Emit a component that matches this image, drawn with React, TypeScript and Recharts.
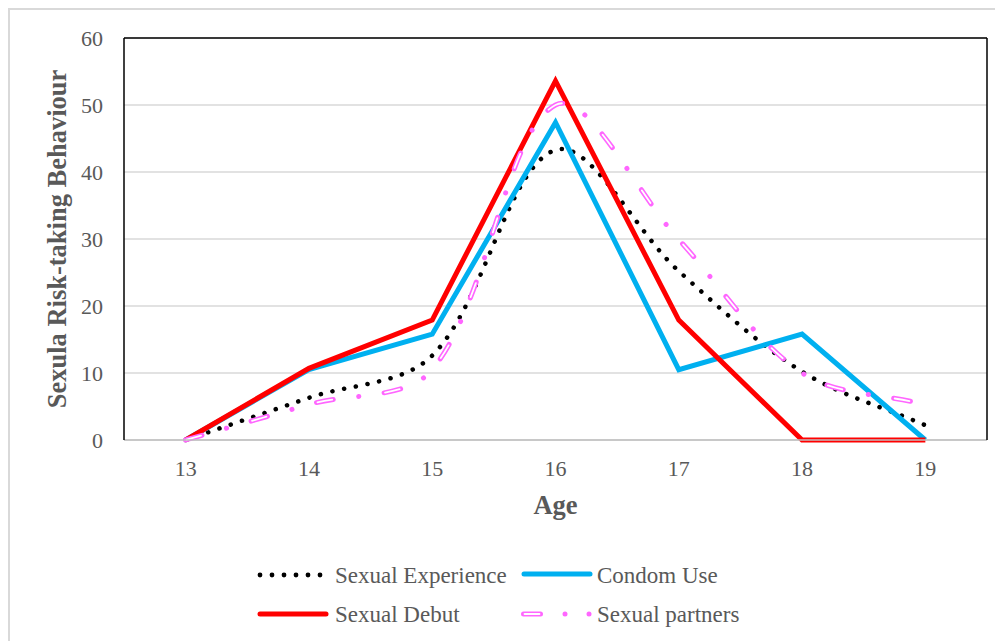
import React from 'react';
import { LineChart, Line, XAxis, YAxis, CartesianGrid } from 'recharts';

const ages = [13, 14, 15, 16, 17, 18, 19];
const sexualExperience = [0, 6.3, 12.6, 43.3, 25.2, 10.2, 2.2];
const condomUse = [0, 10.5, 15.8, 47.4, 10.5, 15.8, 0];
const sexualDebut = [0, 10.7, 17.9, 53.6, 17.9, 0, 0];
const sexualPartners = [0, 5.3, 10.5, 50, 29.9, 10, 5.3];
const yTicks = [0, 10, 20, 30, 40, 50, 60];

const data = ages.map((age, i) => ({
  age,
  experience: sexualExperience[i],
  condom: condomUse[i],
  debut: sexualDebut[i],
  partners: sexualPartners[i],
}));

// Excel-like smoothing: Bezier through points, tangent scaled by segment lengths
const smoothCurve = (context: any) => {
  let pts: number[][] = [];
  return {
    areaStart() {},
    areaEnd() {},
    lineStart() {
      pts = [];
    },
    lineEnd() {
      const n = pts.length;
      if (!n) return;
      context.moveTo(pts[0][0], pts[0][1]);
      if (n === 1) return;
      const cl: number[][] = [];
      const cr: number[][] = [];
      for (let i = 0; i < n; i++) {
        const p = pts[i];
        const prev = pts[i - 1] || p;
        const next = pts[i + 1] || p;
        const dl = Math.hypot(p[0] - prev[0], p[1] - prev[1]);
        const dr = Math.hypot(next[0] - p[0], next[1] - p[1]);
        const s = dl + dr || 1;
        const tx = next[0] - prev[0];
        const ty = next[1] - prev[1];
        cl[i] = [p[0] - (tx * dl) / s / 3, p[1] - (ty * dl) / s / 3];
        cr[i] = [p[0] + (tx * dr) / s / 3, p[1] + (ty * dr) / s / 3];
      }
      for (let i = 0; i < n - 1; i++) {
        context.bezierCurveTo(cr[i][0], cr[i][1], cl[i + 1][0], cl[i + 1][1], pts[i + 1][0], pts[i + 1][1]);
      }
    },
    point(x: number, y: number) {
      pts.push([+x, +y]);
    },
  };
};

const FONT = '"Liberation Serif", "Times New Roman", serif';
const GREY = '#595959';
const PINK = '#FF66FF';
const BLUE = '#00B0F0';
const RED = '#FF0000';

const TICK_SIZE = 22;
const LEG_SIZE = 23;
const TITLE_SIZE = 26.5;

export default function App() {
  return (
    <div style={{ position: 'relative', width: 995, height: 633, overflow: 'hidden', background: '#fff' }}>
      <div
        style={{
          position: 'absolute',
          left: 0,
          top: 0,
          width: 1100,
          height: 800,
          borderTop: '2px solid #d9d9d9',
          borderLeft: '2px solid #d9d9d9',
          boxSizing: 'border-box',
        }}
      />
      <div style={{ position: 'absolute', left: 0, top: 0 }}>
        <LineChart width={995} height={530} data={data} margin={{ top: 29, right: 15, left: 40, bottom: 38 }}>
          <CartesianGrid vertical={false} stroke="#d9d9d9" strokeWidth={1.5} />
          <XAxis
            dataKey="age"
            scale="band"
            stroke="#bfbfbf"
            strokeWidth={1.5}
            tickLine={false}
            tickMargin={14}
            height={60}
            tick={{ fill: GREY, fontSize: TICK_SIZE, fontFamily: FONT }}
            label={() => (
              <text
                x={547.5}
                y={506}
                textAnchor="middle"
                fill={GREY}
                fontSize={TITLE_SIZE}
                fontWeight="bold"
                fontFamily={FONT}
              >
                Age
              </text>
            )}
          />
          <XAxis
            xAxisId="top"
            orientation="top"
            dataKey="age"
            scale="band"
            height={1}
            tick={false}
            tickLine={false}
            stroke="#000"
            strokeWidth={1.5}
          />
          <YAxis
            domain={[0, 60]}
            ticks={yTicks}
            width={76}
            stroke="#000"
            strokeWidth={1.5}
            tickLine={false}
            tickMargin={15}
            tick={{ fill: GREY, fontSize: TICK_SIZE, fontFamily: FONT }}
            label={() => (
              <text
                x={0}
                y={0}
                transform="translate(52,231) rotate(-90)"
                textAnchor="middle"
                dominantBaseline="middle"
                fill={GREY}
                fontSize={TITLE_SIZE}
                fontWeight="bold"
                fontFamily={FONT}
              >
                Sexula Risk-taking Behaviour
              </text>
            )}
          />
          <YAxis
            yAxisId="right"
            orientation="right"
            domain={[0, 60]}
            width={1}
            tick={false}
            tickLine={false}
            stroke="#000"
            strokeWidth={1.5}
          />
          <Line
            dataKey="experience"
            type={smoothCurve as any}
            stroke="#000"
            strokeWidth={4.5}
            strokeDasharray="0.1 11.8"
            strokeLinecap="round"
            dot={false}
            activeDot={false}
            isAnimationActive={false}
          />
          <Line
            dataKey="condom"
            type="linear"
            stroke={BLUE}
            strokeWidth={5}
            dot={false}
            activeDot={false}
            isAnimationActive={false}
          />
          <Line
            dataKey="debut"
            type="linear"
            stroke={RED}
            strokeWidth={5}
            dot={false}
            activeDot={false}
            isAnimationActive={false}
          />
          <Line
            dataKey="partners"
            type={smoothCurve as any}
            stroke={PINK}
            strokeWidth={5}
            strokeDasharray="17 25.5 0.1 25.5"
            strokeLinecap="round"
            dot={false}
            activeDot={false}
            isAnimationActive={false}
          />
          <Line
            dataKey="partners"
            type={smoothCurve as any}
            stroke="#fff"
            strokeWidth={1.8}
            strokeDasharray="15 53.1"
            strokeDashoffset={67.1}
            strokeLinecap="round"
            dot={false}
            activeDot={false}
            isAnimationActive={false}
          />
        </LineChart>
      </div>
      <svg
        width={995}
        height={100}
        style={{ position: 'absolute', left: 0, top: 530 }}
        fontFamily={FONT}
        fontSize={LEG_SIZE}
        fill={GREY}
      >
        {[252, 264, 276, 288, 300, 312].map((x) => (
          <circle key={x} cx={x} cy={37} r={2.4} fill="#000" />
        ))}
        <text x={327} y={45}>Sexual Experience</text>
        <line x1={516} y1={36} x2={582} y2={36} stroke={BLUE} strokeWidth={5} strokeLinecap="round" />
        <text x={589} y={45}>Condom Use</text>
        <line x1={252} y1={76} x2={318} y2={76} stroke={RED} strokeWidth={5} strokeLinecap="round" />
        <text x={327} y={84}>Sexual Debut</text>
        <line x1={515.5} y1={76} x2={532.5} y2={76} stroke={PINK} strokeWidth={5} strokeLinecap="round" />
        <line x1={516.5} y1={76} x2={531.5} y2={76} stroke="#fff" strokeWidth={1.8} strokeLinecap="round" />
        <circle cx={557} cy={76} r={2.5} fill={PINK} />
        <circle cx={581} cy={76} r={2.5} fill={PINK} />
        <text x={589} y={84}>Sexual partners</text>
      </svg>
    </div>
  );
}
